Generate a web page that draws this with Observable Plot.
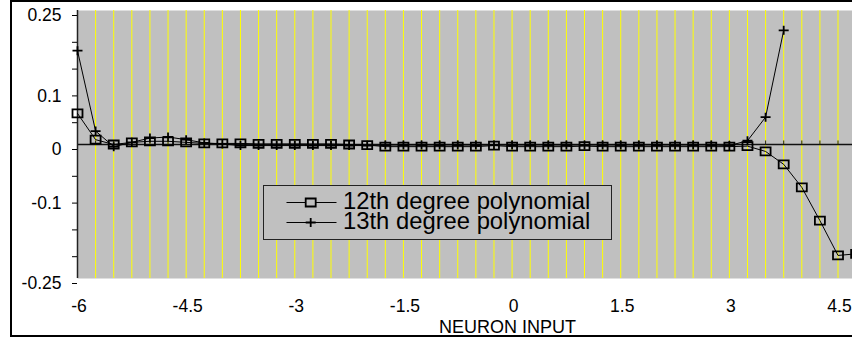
<!DOCTYPE html>
<html>
<head>
<meta charset="utf-8">
<script src="https://cdn.jsdelivr.net/npm/d3@7"></script>
<script src="https://cdn.jsdelivr.net/npm/@observablehq/plot@0.6"></script>
<style>
html, body { margin: 0; padding: 0; background: #fff; overflow: hidden; width: 852px; height: 341px; }
#wrap { position: relative; width: 852px; height: 341px; overflow: hidden; font-family: "Liberation Sans", Arial, sans-serif; }
#chart { position: absolute; left: 0; top: 0; }
#legend { position: absolute; left: 263px; top: 185px; width: 347px; height: 53px; background: #c0c0c0; border: 1px solid #222; }
#legend svg { display: block; }
#border { position: absolute; left: 10px; top: 0; width: 900px; height: 333px; border: 2px solid #000; pointer-events: none; }
</style>
</head>
<body>
<div id="wrap">
  <div id="chart"></div>
  <div id="legend"></div>
  <div id="border"></div>
</div>
<script>
// Category values along the x axis (neuron input)
const xCategories = [-6, -5.75, -5.5, -5.25, -5, -4.75, -4.5, -4.25, -4, -3.75, -3.5, -3.25, -3, -2.75, -2.5, -2.25,
  -2, -1.75, -1.5, -1.25, -1, -0.75, -0.5, -0.25, 0, 0.25, 0.5, 0.75, 1, 1.25, 1.5, 1.75, 2, 2.25, 2.5, 2.75,
  3, 3.25, 3.5, 3.75, 4, 4.25, 4.5, 4.75];

// 12th degree polynomial error values
const poly12 = [0.058, 0.009, 0.0, 0.004, 0.006, 0.006, 0.004, 0.002, 0.002, 0.002, 0.001, 0.001, 0.001, 0.001,
  0.001, 0.0, -0.001, -0.004, -0.004, -0.004, -0.004, -0.004, -0.004, -0.002, -0.004, -0.004, -0.004, -0.004,
  -0.003, -0.004, -0.004, -0.004, -0.004, -0.004, -0.004, -0.004, -0.004, -0.003, -0.013, -0.037, -0.080,
  -0.142, -0.207, -0.204];

// 13th degree polynomial error values (ends at 3.75)
const poly13 = [0.175, 0.025, -0.004, 0.004, 0.012, 0.014, 0.009, 0.003, 0.001, -0.002, -0.002, -0.002, -0.002,
  -0.002, -0.002, -0.002, -0.002, -0.001, -0.001, -0.001, -0.001, -0.001, -0.001, -0.001, -0.001, -0.001, -0.001,
  -0.001, -0.001, -0.001, -0.001, -0.001, -0.001, -0.001, -0.001, -0.001, -0.002, 0.007, 0.051, 0.213];

const seriesNames = ["12th degree polynomial", "13th degree polynomial"];
const xTickValues = [-6, -4.5, -3, -1.5, 0, 1.5, 3, 4.5];
const yTickValues = [0.25, 0.2, 0.15, 0.1, 0.05, 0, -0.05, -0.1, -0.15, -0.2, -0.25];
const yTickLabels = ["0.25", "0.1", "0", "-0.1", "-0.25"];
const xAxisTitle = "NEURON INPUT";

const data12 = poly12.map((v, i) => ({x: xCategories[i], y: v, series: seriesNames[0]}));
const data13 = poly13.map((v, i) => ({x: xCategories[i], y: v, series: seriesNames[1]}));

// custom marker shapes (pixel sized)
const squareSym = {draw(ctx) { ctx.moveTo(-5, -4); ctx.lineTo(5, -4); ctx.lineTo(5, 4); ctx.lineTo(-5, 4); ctx.closePath(); }};
const plusSym = {draw(ctx) { ctx.moveTo(-5, 0); ctx.lineTo(5, 0); ctx.moveTo(0, -4.5); ctx.lineTo(0, 4.5); }};
const tickUpSym = {draw(ctx) { ctx.moveTo(0, 0); ctx.lineTo(0, -4); }};

const labelSet = new Set(yTickLabels);
const chart = Plot.plot({
  width: 852,
  height: 341,
  marginLeft: 77,
  marginRight: 0,
  marginTop: 10,
  marginBottom: 63,
  style: {fontFamily: '"Liberation Sans", Arial, sans-serif', fontSize: "17.5px", color: "#000", background: "transparent"},
  x: {domain: [-6, 4.70]},
  y: {domain: [-0.25, 0.25]},
  marks: [
    Plot.frame({fill: "#c0c0c0", stroke: null}),
    Plot.ruleX(xCategories.slice(1), {stroke: "#ffff00", strokeWidth: 1}),
    Plot.ruleY([0], {stroke: "#111", strokeWidth: 1.5}),
    Plot.dot(xCategories.slice(1), {x: d => d, y: () => 0, symbol: tickUpSym, stroke: "#222", strokeWidth: 1}),
    Plot.ruleX([xCategories[0]], {stroke: "#222", strokeWidth: 1.5}),
    Plot.axisY({ticks: yTickValues, tickFormat: d => (labelSet.has(String(d)) ? String(d) : ""), tickSize: 5, tickPadding: 11, dy: 5, label: null}),
    Plot.axisX({ticks: xTickValues, tickFormat: d => String(d), tickSize: 0, tickPadding: 21, dx: 1.5, label: null}),
    Plot.line(data12, {x: "x", y: "y", stroke: "#000", strokeWidth: 1}),
    Plot.line(data13, {x: "x", y: "y", stroke: "#000", strokeWidth: 1}),
    Plot.dot(data12, {x: "x", y: "y", symbol: squareSym, stroke: "#000", strokeWidth: 1.8, fill: "none"}),
    Plot.dot(data13, {x: "x", y: "y", symbol: plusSym, stroke: "#000", strokeWidth: 1.8}),
    Plot.text([xAxisTitle], {text: d => d, frameAnchor: "bottom", lineAnchor: "bottom", dx: 42.5, dy: 54, fontSize: 18, fill: "#000"})
  ]
});
document.getElementById("chart").appendChild(chart);

// Legend (inside plot area, as in the reference)
const ns = "http://www.w3.org/2000/svg";
const lsvg = document.createElementNS(ns, "svg");
lsvg.setAttribute("width", 347);
lsvg.setAttribute("height", 53);
const rows = [{y: 16.5, sym: "square"}, {y: 36.5, sym: "plus"}];
rows.forEach((r, i) => {
  const line = document.createElementNS(ns, "line");
  line.setAttribute("x1", 22.5); line.setAttribute("x2", 72.5);
  line.setAttribute("y1", r.y); line.setAttribute("y2", r.y);
  line.setAttribute("stroke", "#000"); line.setAttribute("stroke-width", 1);
  lsvg.appendChild(line);
  const p = document.createElementNS(ns, "path");
  const cx = 46.7;
  p.setAttribute("d", r.sym === "square"
    ? `M${cx - 5},${r.y - 4}h10v8h-10z`
    : `M${cx - 5},${r.y}h10M${cx},${r.y - 4.5}v9`);
  p.setAttribute("fill", r.sym === "square" ? "#c0c0c0" : "none");
  p.setAttribute("stroke", "#000"); p.setAttribute("stroke-width", 1.8);
  lsvg.appendChild(p);
  const t = document.createElementNS(ns, "text");
  t.setAttribute("x", 79); t.setAttribute("y", r.y + 6.8);
  t.setAttribute("font-family", '"Liberation Sans", Arial, sans-serif');
  t.setAttribute("font-size", "23.8px");
  t.setAttribute("fill", "#000");
  t.textContent = seriesNames[i];
  lsvg.appendChild(t);
});
document.getElementById("legend").appendChild(lsvg);
</script>
</body>
</html>
